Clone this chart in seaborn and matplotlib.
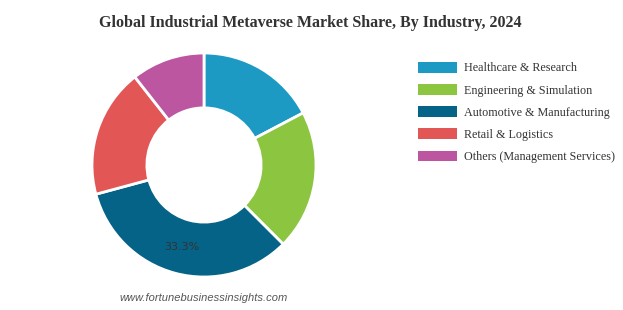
import matplotlib
matplotlib.use("Agg")
import matplotlib.pyplot as plt
import seaborn as sns
import numpy as np

categories = ["Healthcare & Research", "Engineering & Simulation",
              "Automotive & Manufacturing", "Retail & Logistics",
              "Others (Management Services)"]
shares = [17.3, 20.2, 33.3, 18.6, 10.6]
labeled = [False, False, True, False, False]
colors = ["#1c9ac3", "#8cc540", "#046387", "#e35656", "#bd56a0"]
title = "Global Industrial Metaverse Market Share, By Industry, 2024"
source = "www.fortunebusinessinsights.com"

sns.set_theme(style="white")
plt.rcParams["font.family"] = ["Liberation Serif", "DejaVu Serif"]
palette = sns.color_palette(colors)

W, H = 623, 310
fig = plt.figure(figsize=(W / 100, H / 100), dpi=100)
fig.patch.set_facecolor("white")

cx, cy, r = 204, 165, 112
ax = fig.add_axes([(cx - r) / W, (H - cy - r) / H, 2 * r / W, 2 * r / H])
wedges, _ = ax.pie(shares, colors=palette, startangle=90, counterclock=False,
                   radius=1.0, wedgeprops=dict(width=0.49, edgecolor="white", linewidth=2))
ax.set_xlim(-1, 1)
ax.set_ylim(-1, 1)
ax.set_aspect("equal")
ax.axis("off")

for w, s, lab in zip(wedges, shares, labeled):
    mid = np.deg2rad((w.theta1 + w.theta2) / 2)
    if lab:
        rr = 1 - 0.49 / 2
        ax.text(rr * np.cos(mid), rr * np.sin(mid), f"{s:.1f}%", ha="center", va="center",
                fontsize=8, color="#333333", family=["DejaVu Sans"])

fig.text(310 / W, 1 - 23 / H, title, ha="center", va="center", fontsize=11.5,
         fontweight="bold", color="#333333")
fig.text(204 / W, 1 - 298 / H, source, ha="center", va="center", fontsize=8,
         style="italic", color="#555555", family=["Liberation Sans", "DejaVu Sans"])

leg = fig.legend(wedges, categories, loc="upper left",
                 bbox_to_anchor=(418 / W, 1 - 62 / H), frameon=False,
                 fontsize=8.7, handlelength=3.2, handleheight=0.98,
                 labelspacing=0.8, handletextpad=0.57, borderpad=0, borderaxespad=0)
for t in leg.get_texts():
    t.set_color("#333333")
for p in leg.get_patches():
    p.set_edgecolor("none")

fig.savefig("out.png", dpi=100, facecolor="white")
